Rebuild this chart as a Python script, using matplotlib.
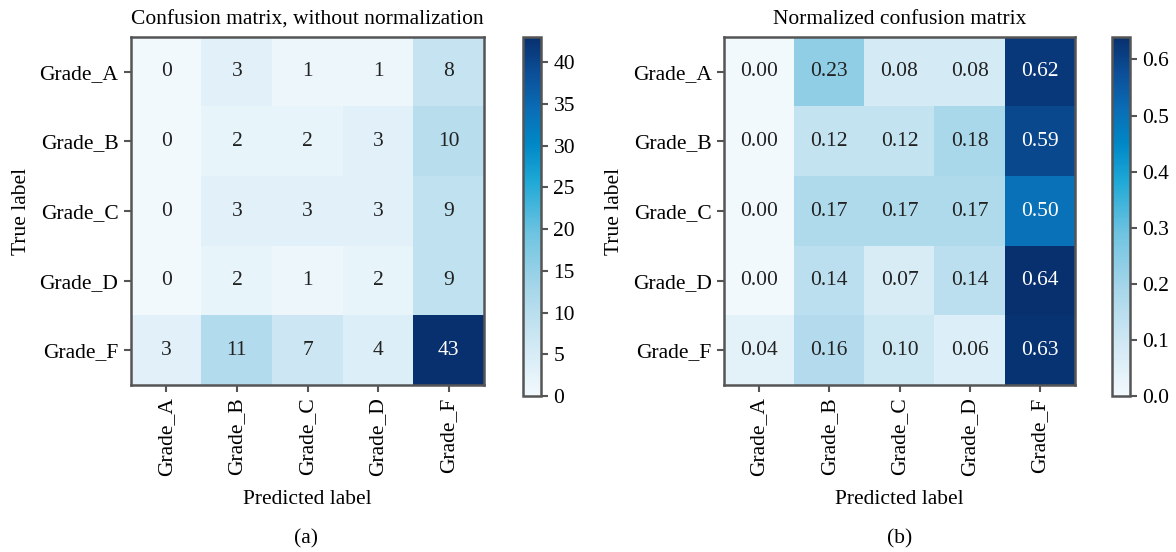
import matplotlib
matplotlib.use("Agg")
import matplotlib.pyplot as plt
from matplotlib.colors import LinearSegmentedColormap
import numpy as np

plt.rcParams['font.family'] = ['Liberation Serif', 'DejaVu Serif']

classes = ["Grade_A", "Grade_B", "Grade_C", "Grade_D", "Grade_F"]

counts = [
    [0, 3, 1, 1, 8],
    [0, 2, 2, 3, 10],
    [0, 3, 3, 3, 9],
    [0, 2, 1, 2, 9],
    [3, 11, 7, 4, 43],
]

normalized = [
    [0.00, 0.23, 0.08, 0.08, 0.62],
    [0.00, 0.12, 0.12, 0.18, 0.59],
    [0.00, 0.17, 0.17, 0.17, 0.50],
    [0.00, 0.14, 0.07, 0.14, 0.64],
    [0.04, 0.16, 0.10, 0.06, 0.63],
]

titles = ["Confusion matrix, without normalization", "Normalized confusion matrix"]
subcaptions = ["(a)", "(b)"]
fmts = ["{:d}", "{:.2f}"]
cbar_ticks = [np.arange(0, 41, 5), np.arange(0, 0.61, 0.1)]
cbar_fmt = ["{:.0f}", "{:.1f}"]

cmap = LinearSegmentedColormap.from_list("blues_sat", [
    (0.00, "#f2f9fd"),
    (0.15, "#cfe8f4"),
    (0.30, "#a6d6ea"),
    (0.45, "#70c4e1"),
    (0.60, "#1ea8d6"),
    (0.70, "#0089c7"),
    (0.80, "#0a6db5"),
    (0.90, "#0b4f98"),
    (1.00, "#08306e"),
])

W, H = 1176, 552
fig = plt.figure(figsize=(W / 100, H / 100), dpi=100)

edge = "#555555"
fs = 15.5

def px_axes(x0, y0, x1, y1):
    return fig.add_axes([x0 / W, 1 - y1 / H, (x1 - x0) / W, (y1 - y0) / H])

panels = [
    (counts, (131, 37, 484, 385), (523, 37, 541, 396), 306),
    (normalized, (724, 37, 1075, 385), (1112, 37, 1130, 396), 900),
]

for i, (data, hbox, cbox, capx) in enumerate(panels):
    arr = np.array(data)
    ax = px_axes(*hbox)
    im = ax.imshow(arr, cmap=cmap, interpolation="nearest", aspect="auto",
                   vmin=0, vmax=arr.max())
    ax.set_title(titles[i], fontsize=fs, pad=9)
    ticks = np.arange(len(classes))
    ax.set_xticks(ticks)
    ax.set_yticks(ticks)
    ax.set_xticklabels(classes, rotation=90, fontsize=fs)
    ax.set_yticklabels(classes, fontsize=fs)
    ax.tick_params(length=5, width=1.5, color=edge, pad=4)
    for s in ax.spines.values():
        s.set_edgecolor(edge)
        s.set_linewidth(1.8)
    ax.set_ylabel("True label", fontsize=fs, labelpad=6)
    ax.set_xlabel("Predicted label", fontsize=fs, labelpad=10)
    thresh = arr.max() / 2.0
    for r in range(arr.shape[0]):
        for c in range(arr.shape[1]):
            v = arr[r, c]
            ax.text(c, r, fmts[i].format(v if i == 1 else int(v)),
                    ha="center", va="center", fontsize=fs,
                    color="white" if v > thresh else "#222222")
    cax = px_axes(*cbox)
    cb = fig.colorbar(im, cax=cax)
    cb.set_ticks(cbar_ticks[i])
    cb.set_ticklabels([cbar_fmt[i].format(t) for t in cbar_ticks[i]])
    cb.ax.tick_params(labelsize=fs, length=5, width=1.5, color=edge, pad=4)
    cb.outline.set_edgecolor(edge)
    cb.outline.set_linewidth(1.8)
    fig.text(capx / W, 1 - 539 / H, subcaptions[i], ha="center", va="center", fontsize=fs)

fig.savefig("out.png", dpi=100)
